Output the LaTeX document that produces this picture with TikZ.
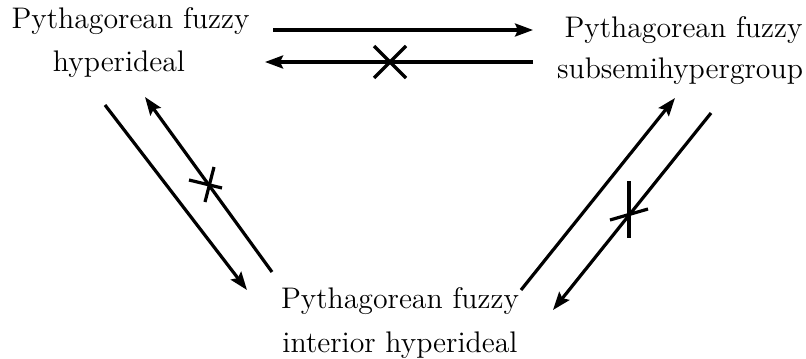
\documentclass[tikz,border=0pt]{standalone}
\usetikzlibrary{arrows.meta}
\begin{document}
\begin{tikzpicture}[x=0.5pt,y=-0.5pt,
  lbl/.style={inner sep=0pt,anchor=base,font=\fontsize{14.9}{21}\selectfont},
  arr/.style={line width=1.6pt,-{Stealth[length=9pt,width=6.5pt,inset=1.5pt]}},
  crossarm/.style={line width=1.6pt}]
\useasboundingbox (0,0) rectangle (806,358);
% labels
\node[lbl] (hia) at (130.5,29) {Pythagorean fuzzy};
\node[lbl] (hib) at (119,71) {hyperideal};
\node[lbl] (ssa) at (683.5,38) {Pythagorean fuzzy};
\node[lbl] (ssb) at (680,78) {subsemihypergroup};
\node[lbl] (iha) at (400,308) {Pythagorean fuzzy};
\node[lbl] (ihb) at (400,352) {interior hyperideal};
% arrow end points
\coordinate (a1) at (273,30);  \coordinate (a2) at (533,30);
\coordinate (b1) at (533,62);  \coordinate (b2) at (265,62);
\coordinate (c1) at (105,105); \coordinate (c2) at (247,290);
\coordinate (d1) at (272,272); \coordinate (d2) at (145,97);
\coordinate (e1) at (521,290); \coordinate (e2) at (675,98);
\coordinate (f1) at (711,113); \coordinate (f2) at (553,310);
% arrows
\draw[arr] (a1) -- (a2);
\draw[arr] (b1) -- (b2);
\draw[arr] (c1) -- (c2);
\draw[arr] (d1) -- (d2);
\draw[arr] (e1) -- (e2);
\draw[arr] (f1) -- (f2);
% crosses
\coordinate (xb) at (390,62);
\draw[crossarm] ([shift={(-16,-16)}]xb) -- ([shift={(16,16)}]xb);
\draw[crossarm] ([shift={(-16,16)}]xb) -- ([shift={(16,-16)}]xb);
\coordinate (xd) at (209,185);
\draw[crossarm] ([shift={(-20,-5)}]xd) -- ([shift={(13,3)}]xd);
\draw[crossarm] ([shift={(5,-18)}]xd) -- ([shift={(-4,17)}]xd);
\coordinate (xf) at (629,213);
\draw[crossarm] ([shift={(0,-32)}]xf) -- ([shift={(0,25)}]xf);
\draw[crossarm] ([shift={(-19,7)}]xf) -- ([shift={(19,-4)}]xf);
\end{tikzpicture}
\end{document}
